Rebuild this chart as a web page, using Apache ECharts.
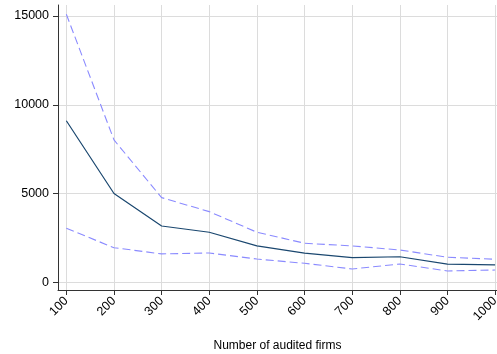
<!DOCTYPE html>
<html>
<head>
<meta charset="utf-8">
<script src="https://cdn.jsdelivr.net/npm/echarts@6/dist/echarts.min.js"></script>
<style>
  html, body { margin: 0; padding: 0; background: #fff; }
  #chart { width: 497px; height: 354px; }
</style>
</head>
<body>
<div id="chart"></div>
<script>
const firms = [100, 200, 300, 400, 500, 600, 700, 800, 900, 1000]
const meanVals = [9100, 5000, 3170, 2820, 2050, 1640, 1390, 1440, 1020, 980]
const upperVals = [15100, 8020, 4770, 3980, 2820, 2200, 2050, 1820, 1410, 1300]
const lowerVals = [3040, 1950, 1600, 1650, 1310, 1070, 750, 1030, 640, 690]
const xTicks = [100, 200, 300, 400, 500, 600, 700, 800, 900, 1000]
const yTicks = [0, 5000, 10000, 15000]

const font = 'Liberation Sans, Arial, Helvetica, sans-serif'
const gridLine = { show: true, lineStyle: { color: '#dcdcdc', width: 1 } }

const pairs = (ys) => firms.map((x, i) => [x, ys[i]])
const dashed = (name, ys) => ({
  name,
  type: 'line',
  data: pairs(ys),
  symbol: 'none',
  lineStyle: { color: '#8a8aff', width: 1.1, type: [8, 4] },
  z: 3,
})

const chart = echarts.init(document.getElementById('chart'))
chart.setOption({
  animation: false,
  backgroundColor: '#fff',
  grid: { left: 58, right: 0, top: 5, bottom: 64, outerBoundsMode: 'none' },
  xAxis: {
    type: 'value',
    min: 82.5,
    max: 1004,
    name: 'Number of audited firms',
    nameLocation: 'middle',
    nameGap: 50,
    nameTextStyle: { fontFamily: font, fontSize: 12, color: '#000' },
    axisLine: { show: true, onZero: false, lineStyle: { color: '#333', width: 1 } },
    axisTick: { show: true, length: 5, customValues: xTicks, lineStyle: { color: '#333' } },
    axisLabel: {
      customValues: xTicks, rotate: 45, margin: 9,
      fontFamily: font, fontSize: 12.5, color: '#000',
      formatter: (v) => String(v),
    },
    splitLine: gridLine,
  },
  yAxis: {
    type: 'value',
    min: -434,
    max: 15620,
    axisLine: { show: true, onZero: false, lineStyle: { color: '#333', width: 1 } },
    axisTick: { show: true, length: 5, customValues: yTicks, lineStyle: { color: '#333' } },
    axisLabel: {
      customValues: yTicks, margin: 9,
      fontFamily: font, fontSize: 12.5, color: '#000',
      formatter: (v) => String(v),
    },
    splitLine: gridLine,
  },
  series: [
    dashed('upper', upperVals),
    dashed('lower', lowerVals),
    {
      name: 'mean',
      type: 'line',
      data: pairs(meanVals),
      symbol: 'none',
      lineStyle: { color: '#1a476f', width: 1.2 },
      z: 4,
    },
  ],
})
</script>
</body>
</html>
